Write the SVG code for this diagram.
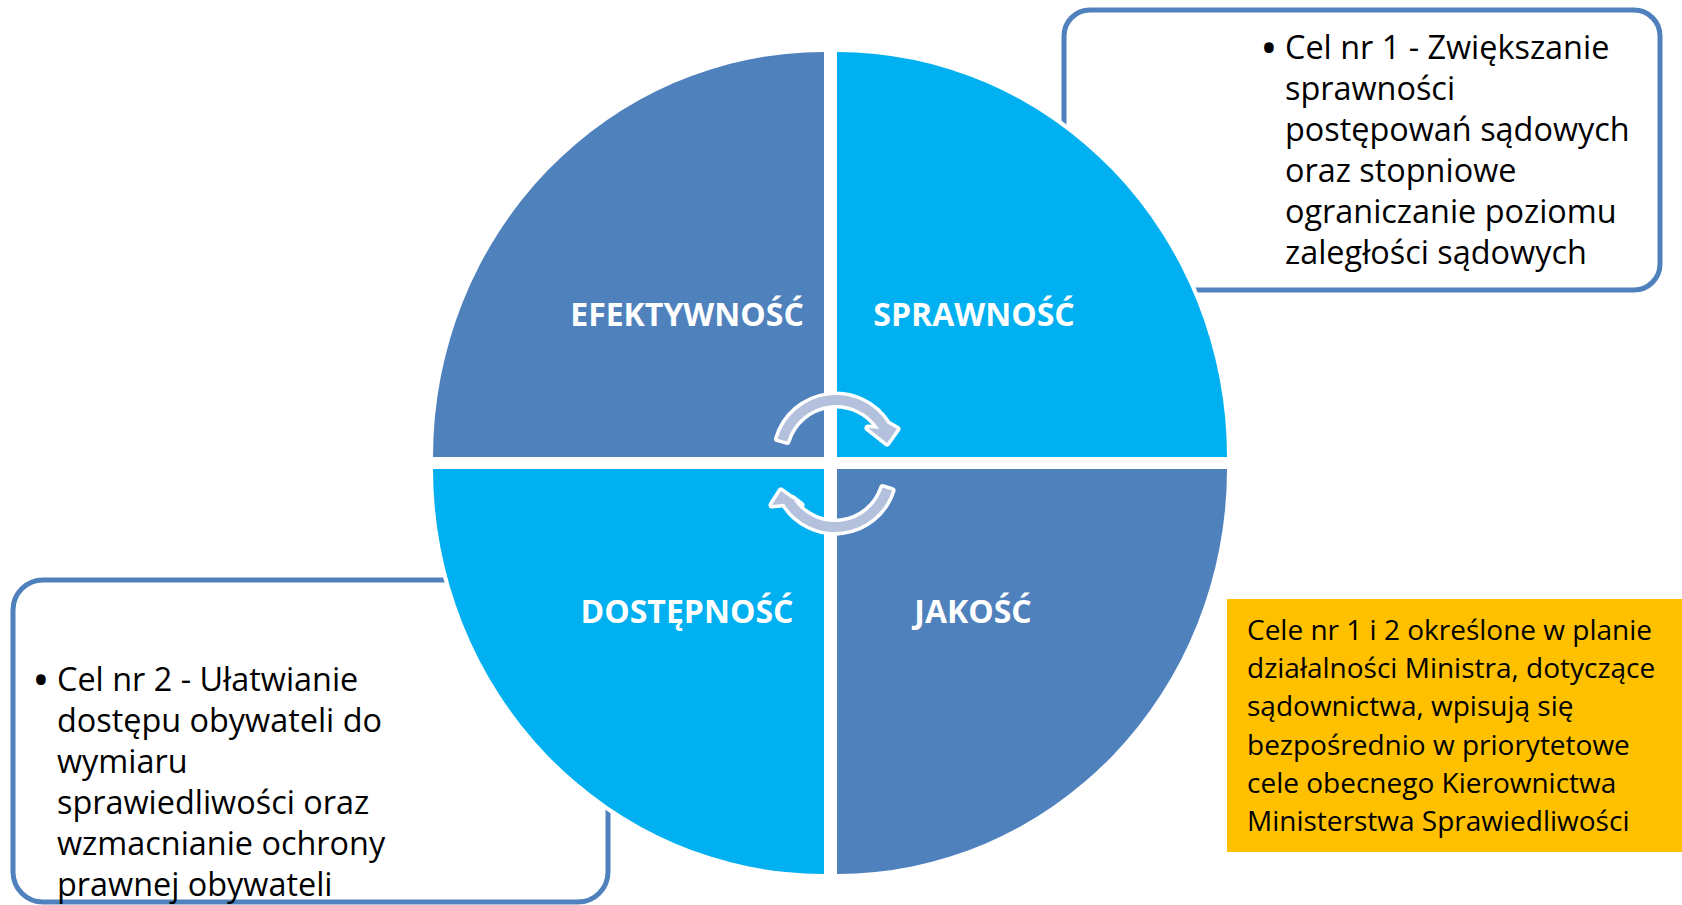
<svg xmlns="http://www.w3.org/2000/svg" width="1682" height="905" viewBox="0 0 1682 905">
  <style>
    .box{fill:#fff;stroke:#4F81BD;stroke-width:5}
    .quad{stroke:#fff;stroke-width:8;paint-order:stroke}
    .dark{fill:#4F81BD}
    .light{fill:#00B0F0}
    .arrow{fill:#B4C1DD;stroke:#fff;stroke-width:7;stroke-linejoin:round;paint-order:stroke}
    .lbl{font-family:'Open Sans','Noto Sans',sans-serif;font-weight:700;font-size:32px;fill:#fff;text-anchor:middle}
    .txt{font-family:'Open Sans','Noto Sans',sans-serif;font-size:32.4px;fill:#000}
    .bul{font-family:'Open Sans','Noto Sans',sans-serif;font-size:46px;fill:#000;text-anchor:middle}
    .ytxt{font-family:'Open Sans','Noto Sans',sans-serif;font-size:28px;fill:#000}
  </style>
  <rect width="1682" height="905" fill="#fff"/>

  <g id="goal1-box">
    <rect class="box" x="1064" y="10" width="596" height="280" rx="26"/>
  </g>
  <g id="goal2-box">
    <rect class="box" x="13" y="580" width="595" height="322" rx="30"/>
  </g>

  <g id="q-efektywnosc">
    <path class="quad dark" d="M824 457 L433 457 A391 405 0 0 1 824 52 Z"/>
    <text class="lbl" x="687" y="326">EFEKTYWNOŚĆ</text>
  </g>
  <g id="q-sprawnosc">
    <path class="quad light" d="M837 457 L837 52 A390 405 0 0 1 1227 457 Z"/>
    <text class="lbl" x="974" y="326">SPRAWNOŚĆ</text>
  </g>
  <g id="q-jakosc">
    <path class="quad dark" d="M837 469 L1227 469 A390 405 0 0 1 837 874 Z"/>
    <text class="lbl" x="973" y="623">JAKOŚĆ</text>
  </g>
  <g id="q-dostepnosc">
    <path class="quad light" d="M824 469 L824 874 A391 405 0 0 1 433 469 Z"/>
    <text class="lbl" x="687" y="623">DOSTĘPNOŚĆ</text>
  </g>

  <g id="connectors">
    <path class="arrow" d="M777.5 438.7 A61 61 0 0 1 887.7 423.7 L897 429 L887 443 L868 428 L879.2 429 A51 51 0 0 0 787.1 441.5 Z"/>
    <path class="arrow" d="M892.1 490.5 A60 60 0 0 1 784.1 503.8 L772 505 L781 491 L801 505 L792.6 498.5 A50 50 0 0 0 882.6 487.5 Z"/>
  </g>

  <g id="goal1-text">
    <text class="bul" x="1269" y="64">•</text>
    <text class="txt" x="1285" y="59">Cel nr 1 - Zwiększanie</text>
    <text class="txt" x="1285" y="100">sprawności</text>
    <text class="txt" x="1285" y="141">postępowań sądowych</text>
    <text class="txt" x="1285" y="182">oraz stopniowe</text>
    <text class="txt" x="1285" y="223">ograniczanie poziomu</text>
    <text class="txt" x="1285" y="264">zaległości sądowych</text>
  </g>

  <g id="goal2-text">
    <text class="bul" x="41" y="696">•</text>
    <text class="txt" x="57" y="691">Cel nr 2 - Ułatwianie</text>
    <text class="txt" x="57" y="732">dostępu obywateli do</text>
    <text class="txt" x="57" y="773">wymiaru</text>
    <text class="txt" x="57" y="814">sprawiedliwości oraz</text>
    <text class="txt" x="57" y="855">wzmacnianie ochrony</text>
    <text class="txt" x="57" y="896">prawnej obywateli</text>
  </g>

  <g id="note">
    <rect x="1227" y="599" width="455" height="253" fill="#FFC000"/>
    <text class="ytxt" x="1247" y="640">Cele nr 1 i 2 określone w planie</text>
    <text class="ytxt" x="1247" y="678">działalności Ministra, dotyczące</text>
    <text class="ytxt" x="1247" y="716">sądownictwa, wpisują się</text>
    <text class="ytxt" x="1247" y="754.5">bezpośrednio w priorytetowe</text>
    <text class="ytxt" x="1247" y="793">cele obecnego Kierownictwa</text>
    <text class="ytxt" x="1247" y="831">Ministerstwa Sprawiedliwości</text>
  </g>
</svg>
